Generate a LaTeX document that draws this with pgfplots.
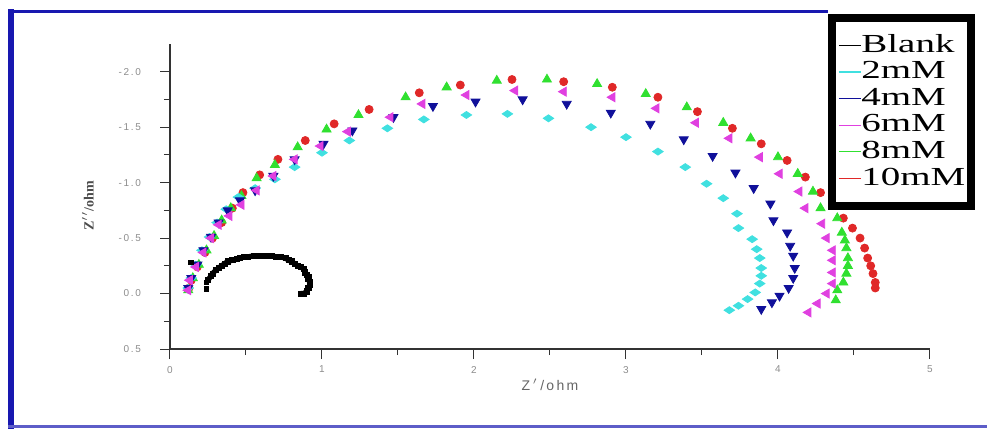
\documentclass[border=0pt]{standalone}
\usepackage{fontspec}
\usepackage{graphicx}
\usepackage{pgfplots}
\usepackage{pgfplotstable}
\pgfplotsset{compat=1.18}
\setmainfont{Liberation Serif}
\setsansfont{Liberation Sans}
\newfontfamily\legfont{Liberation Serif}
\definecolor{frameblue}{RGB}{24,24,176}
\definecolor{ccyan}{RGB}{64,224,224}
\definecolor{cnavy}{RGB}{16,16,154}
\definecolor{cmag}{RGB}{224,64,224}
\definecolor{cgreen}{RGB}{48,224,48}
\definecolor{cred}{RGB}{224,40,40}
% Blank arc (Z', Z'')
\pgfplotstableread{
x y
0.25 -0.12
0.27 -0.16
0.28 -0.18
0.30 -0.21
0.32 -0.23
0.34 -0.25
0.36 -0.27
0.38 -0.29
0.41 -0.30
0.44 -0.31
0.46 -0.32
0.49 -0.33
0.51 -0.33
0.55 -0.34
0.58 -0.34
0.61 -0.34
0.64 -0.34
0.67 -0.34
0.70 -0.33
0.73 -0.33
0.76 -0.32
0.78 -0.30
0.80 -0.29
0.82 -0.27
0.84 -0.25
0.86 -0.24
0.88 -0.22
0.89 -0.19
0.90 -0.17
0.91 -0.15
0.91 -0.13
0.92 -0.10
0.92 -0.08
0.91 -0.05
0.90 -0.02
0.88 0.00
0.86 0.00
}\blank
\begin{document}
\begin{tikzpicture}
\useasboundingbox (0pt,0pt) rectangle (493.5pt,-214.5pt);
% blue frame round the picture
\draw[frameblue, line width=3pt] (5.5pt,-4.5pt) -- (5.5pt,-214.5pt);
\draw[frameblue, line width=1.5pt] (4pt,-5.75pt) -- (414pt,-5.75pt);
\draw[frameblue!70, line width=1.5pt] (4pt,-213.2pt) -- (493.5pt,-213.2pt);
\begin{axis}[
    at={(85pt,-174.5pt)}, anchor=south west,
    scale only axis, width=380pt, height=152.5pt,
    xmin=0, xmax=5, ymin=-2.25, ymax=0.5, y dir=reverse,
    axis lines*=left,
    axis line style={black!80, line width=0.6pt},
    tick align=outside,
    major tick length=5pt, minor tick length=3pt,
    tick style={black!80, line width=0.5pt},
    xtick={0,1,2,3,4,5}, minor x tick num=1,
    xticklabels={0,1,2,3,4,5},
    ytick={-2,-1.5,-1,-0.5,0,0.5}, minor y tick num=1,
    yticklabels={-\,2\,.\,0,-\,1\,.\,5,-\,1\,.\,0,-\,0\,.\,5,0\,.\,0,0\,.\,5},
    tick label style={font=\sffamily\fontsize{5}{6}\selectfont, text=black!45},
    yticklabel style={xshift=-6pt},
    xlabel={Z\,$'$\,/\,o\,h\,m},
    xlabel style={font=\sffamily\fontsize{7}{8}\selectfont, text=black!60,
        at={(axis description cs:0.5,-0.118)}, anchor=center},
    ylabel={Z$''$/ohm},
    ylabel style={font=\bfseries\fontsize{7}{8}\selectfont, text=black!70,
        at={(axis description cs:-0.108,0.47)}, anchor=center},
    legend image code/.code={\draw[#1] (0pt,0pt) -- (11pt,0pt);},
    legend cell align=left,
    legend style={at={(0.866,1.098)}, anchor=north west,
        draw=black, line width=4pt, fill=white,
        inner xsep=3pt, inner ysep=7pt,
        font=\legfont\fontsize{13}{13}\selectfont,
        nodes={inner sep=0pt, text height=10pt, text depth=3.3pt},
        /tikz/every even column/.append style={column sep=4pt}},
]
% legend samples
\addlegendimage{black, line width=0.6pt}
\addlegendentry{\scalebox{1.5}[1]{Blank}}
\addlegendimage{ccyan, line width=0.6pt}
\addlegendentry{\scalebox{1.5}[1]{2mM}}
\addlegendimage{cnavy, line width=0.6pt}
\addlegendentry{\scalebox{1.5}[1]{4mM}}
\addlegendimage{cmag, line width=0.6pt}
\addlegendentry{\scalebox{1.5}[1]{6mM}}
\addlegendimage{cgreen, line width=0.6pt}
\addlegendentry{\scalebox{1.5}[1]{8mM}}
\addlegendimage{cred, line width=0.6pt}
\addlegendentry{\scalebox{1.5}[1]{10mM}}

% 10mM, red circles
\addplot[forget plot, only marks, mark=*, mark size=2pt, cred] coordinates {
(0.125,-0.05)(0.14,-0.12)(0.18,-0.24)(0.23,-0.37)(0.28,-0.50)(0.34,-0.64)
(0.41,-0.77)(0.48,-0.91)(0.59,-1.07)(0.71,-1.21)(0.89,-1.38)(1.08,-1.53)
(1.31,-1.66)(1.64,-1.81)(1.91,-1.88)(2.25,-1.93)(2.59,-1.91)(2.91,-1.86)
(3.21,-1.77)(3.47,-1.64)(3.70,-1.49)(3.89,-1.35)(4.06,-1.20)(4.18,-1.05)
(4.28,-0.91)(4.36,-0.80)(4.43,-0.68)(4.49,-0.59)(4.54,-0.50)(4.57,-0.41)
(4.59,-0.32)(4.61,-0.25)(4.625,-0.18)(4.64,-0.10)(4.64,-0.05)};
% 8mM, green up triangles
\addplot[forget plot, only marks, mark=triangle*, mark size=2.6pt, cgreen] coordinates {
(0.12,-0.03)(0.15,-0.14)(0.19,-0.26)(0.24,-0.39)(0.29,-0.52)(0.34,-0.66)
(0.40,-0.77)(0.47,-0.88)(0.57,-1.04)(0.69,-1.16)(0.84,-1.32)(1.03,-1.48)
(1.24,-1.61)(1.55,-1.77)(1.82,-1.86)(2.15,-1.92)(2.48,-1.93)(2.81,-1.89)
(3.13,-1.80)(3.40,-1.68)(3.64,-1.54)(3.82,-1.40)(4.00,-1.23)(4.13,-1.08)
(4.23,-0.92)(4.28,-0.77)(4.39,-0.68)(4.42,-0.55)(4.44,-0.48)(4.45,-0.41)
(4.46,-0.32)(4.46,-0.25)(4.45,-0.18)(4.43,-0.10)(4.39,-0.03)(4.38,0.06)};
% 2mM, cyan diamonds
\addplot[forget plot, only marks, mark=diamond*, mark size=3.5pt, mark options={yscale=0.5}, ccyan] coordinates {
(0.12,-0.05)(0.14,-0.14)(0.17,-0.26)(0.21,-0.39)(0.26,-0.51)(0.31,-0.64)
(0.37,-0.76)(0.45,-0.87)(0.56,-0.95)(0.69,-1.03)(0.82,-1.14)(1.00,-1.27)
(1.18,-1.38)(1.43,-1.49)(1.67,-1.57)(1.95,-1.61)(2.22,-1.62)(2.49,-1.58)
(2.77,-1.50)(3.00,-1.41)(3.21,-1.28)(3.39,-1.14)(3.53,-0.99)(3.64,-0.86)
(3.73,-0.72)(3.74,-0.59)(3.83,-0.49)(3.86,-0.40)(3.88,-0.32)(3.89,-0.23)
(3.89,-0.16)(3.88,-0.09)(3.85,-0.01)(3.80,0.05)(3.74,0.11)(3.68,0.15)};
% 4mM, navy down triangles
\addplot[forget plot, only marks, mark=triangle*, mark size=2.6pt, mark options={rotate=180}, cnavy] coordinates {
(0.12,-0.05)(0.14,-0.14)(0.18,-0.26)(0.22,-0.39)(0.27,-0.51)(0.32,-0.64)
(0.38,-0.75)(0.46,-0.84)(0.56,-0.93)(0.68,-1.06)(0.82,-1.21)(1.01,-1.35)
(1.20,-1.47)(1.47,-1.59)(1.73,-1.69)(2.01,-1.73)(2.32,-1.75)(2.61,-1.71)
(2.90,-1.63)(3.16,-1.53)(3.38,-1.39)(3.57,-1.24)(3.72,-1.09)(3.84,-0.95)
(3.95,-0.81)(3.97,-0.66)(4.06,-0.55)(4.08,-0.43)(4.10,-0.34)(4.11,-0.23)
(4.10,-0.14)(4.07,-0.05)(4.01,0.02)(3.96,0.08)(3.89,0.14)};
% 6mM, magenta left triangles
\addplot[forget plot, only marks, mark=triangle*, mark size=2.6pt, mark options={rotate=90}, cmag] coordinates {
(0.12,-0.03)(0.13,-0.12)(0.17,-0.24)(0.22,-0.37)(0.27,-0.50)(0.32,-0.62)
(0.39,-0.70)(0.47,-0.80)(0.57,-0.93)(0.68,-1.06)(0.82,-1.21)(0.99,-1.33)
(1.17,-1.46)(1.45,-1.59)(1.66,-1.71)(1.95,-1.79)(2.27,-1.83)(2.59,-1.82)
(2.91,-1.77)(3.20,-1.67)(3.46,-1.54)(3.68,-1.40)(3.88,-1.23)(4.01,-1.08)
(4.14,-0.92)(4.18,-0.77)(4.29,-0.63)(4.32,-0.50)(4.36,-0.39)(4.36,-0.30)
(4.36,-0.19)(4.36,-0.09)(4.32,0.00)(4.26,0.09)(4.20,0.17)};
% Blank, black squares joined into a thick arc
\addplot[forget plot, draw=black, line width=2.6pt, no marks, line join=round] table[x=x, y=y] {\blank};
\addplot[forget plot, only marks, black, mark=square*, mark size=1.3pt] table[x=x, y=y] {\blank};
\addplot[forget plot, only marks, black, mark=square*, mark size=1.2pt] coordinates {
(0.14,-0.28)(0.24,-0.10)(0.24,-0.04)};
\end{axis}
\end{tikzpicture}
\end{document}
